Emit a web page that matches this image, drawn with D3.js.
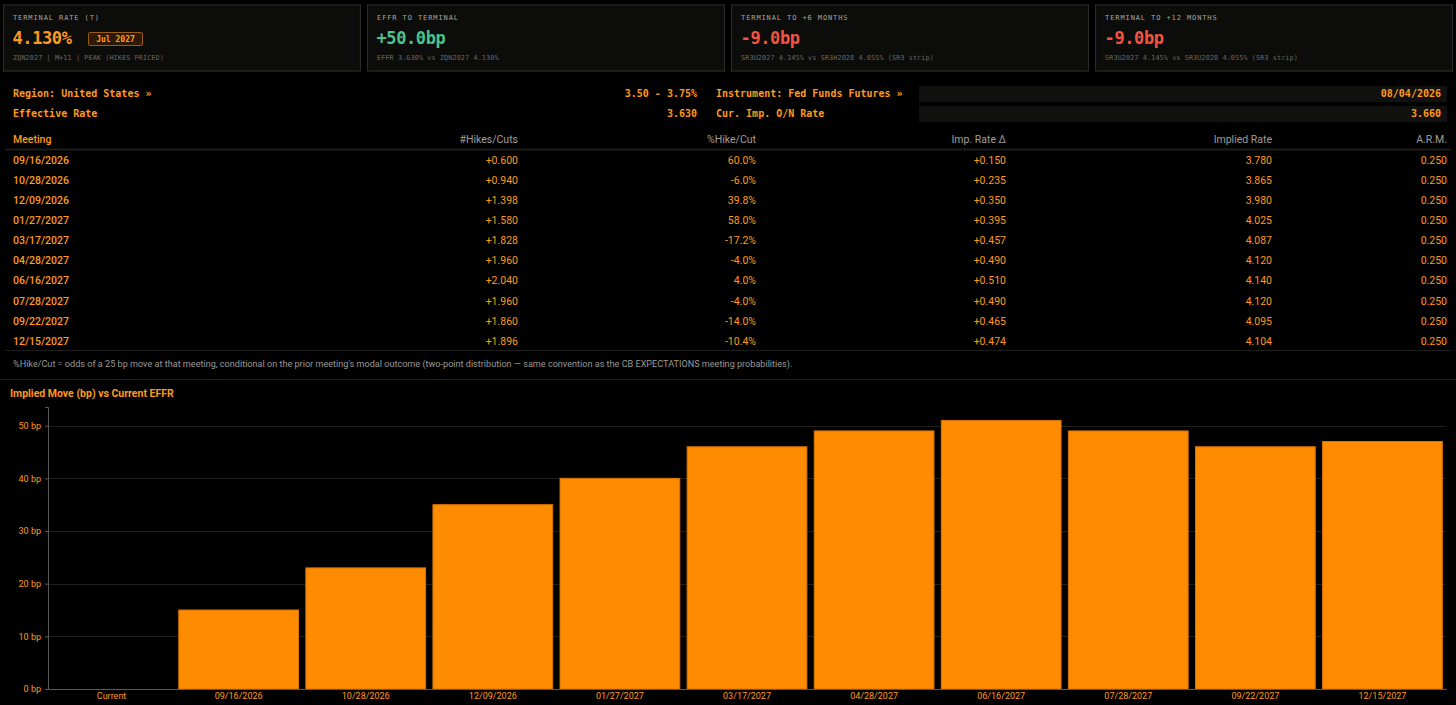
<!DOCTYPE html>
<html><head><meta charset="utf-8">
<script src="https://cdn.jsdelivr.net/npm/d3@7"></script>
<style>
html,body{margin:0;padding:0;background:#000;}
svg{display:block;}
</style></head>
<body>
<svg id="c" width="1456" height="705"></svg>
<script>
// ---- data ----
const cardLabels = ["TERMINAL RATE (T)", "EFFR TO TERMINAL", "TERMINAL TO +6 MONTHS", "TERMINAL TO +12 MONTHS"];
const cardValues = ["4.130%", "+50.0bp", "-9.0bp", "-9.0bp"];
const cardNotes = ["ZQN2027 | M+11 | PEAK (HIKES PRICED)", "EFFR 3.630% vs ZQN2027 4.130%",
  "SR3U2027 4.145% vs SR3H2028 4.055% (SR3 strip)", "SR3U2027 4.145% vs SR3U2028 4.055% (SR3 strip)"];
const cardBadge = "Jul 2027";
const headerCols = ["Meeting", "#Hikes/Cuts", "%Hike/Cut", "Imp. Rate Δ", "Implied Rate", "A.R.M."];
const meetings = ["09/16/2026","10/28/2026","12/09/2026","01/27/2027","03/17/2027","04/28/2027","06/16/2027","07/28/2027","09/22/2027","12/15/2027"];
const hikesCuts = ["+0.600","+0.940","+1.398","+1.580","+1.828","+1.960","+2.040","+1.960","+1.860","+1.896"];
const pctHikeCut = ["60.0%","-6.0%","39.8%","58.0%","-17.2%","-4.0%","4.0%","-4.0%","-14.0%","-10.4%"];
const impRateDelta = ["+0.150","+0.235","+0.350","+0.395","+0.457","+0.490","+0.510","+0.490","+0.465","+0.474"];
const impliedRate = ["3.780","3.865","3.980","4.025","4.087","4.120","4.140","4.120","4.095","4.104"];
const arm = ["0.250","0.250","0.250","0.250","0.250","0.250","0.250","0.250","0.250","0.250"];
const footnote = "%Hike/Cut = odds of a 25 bp move at that meeting, conditional on the prior meeting's modal outcome (two-point distribution \u2014 same convention as the CB EXPECTATIONS meeting probabilities).";
const chartTitle = "Implied Move (bp) vs Current EFFR";
const chartCats = ["Current"].concat(meetings);
const moveBp = [0, 15, 23, 35, 40, 46, 49, 51, 49, 46, 47];
const yTicks = [0, 10, 20, 30, 40, 50];

// ---- styles ----
const ORANGE = "#ff9a1a", BAR = "#ff8c00", MONO = "'DejaVu Sans Mono', 'Liberation Mono', monospace", SANS = "Roboto, 'Noto Sans', sans-serif";
const svg = d3.select("#c");
svg.append("rect").attr("width",1456).attr("height",705).attr("fill","#000");

// ---- cards ----
const cardX = d3.scaleBand().domain(d3.range(4)).range([3.5, 1452.5]).paddingInner(0.0195);
const valColors = [ORANGE, "#4cc38a", "#f5533f", "#f5533f"];
const cards = svg.selectAll("g.card").data(d3.range(4)).join("g").attr("class","card")
  .attr("transform", i => `translate(${cardX(i)},5)`);
cards.append("rect").attr("width", cardX.bandwidth()).attr("height", 66)
  .attr("fill","#0c0c0b").attr("stroke","#2a2a25").attr("stroke-width",1.2);
cards.append("text").attr("x",9.5).attr("y",14.5).text(i => cardLabels[i])
  .attr("font-family",MONO).attr("font-size",7).attr("letter-spacing",0.9).attr("fill","#a8a69e");
cards.append("text").attr("x",9).attr("y",38.5).text(i => cardValues[i])
  .attr("font-family",MONO).attr("font-weight","bold").attr("font-size",17).attr("letter-spacing",-0.4).attr("fill",i => valColors[i]);
cards.append("text").attr("x",9.5).attr("y",54.5).text(i => cardNotes[i])
  .attr("font-family",MONO).attr("font-size",6.8).attr("letter-spacing",0.1).attr("fill","#6a6862");
const b = svg.append("g").attr("transform","translate(88.5,32.5)");
b.append("rect").attr("width",54).attr("height",13).attr("rx",1.5).attr("fill","#2e1a04").attr("stroke","#9a5a10").attr("stroke-width",1);
b.append("text").attr("x",27).attr("y",9.5).attr("text-anchor","middle").text(cardBadge)
  .attr("font-family",MONO).attr("font-weight","bold").attr("font-size",8).attr("fill",ORANGE);

// ---- info rows ----
svg.append("rect").attr("x",919).attr("y",86).attr("width",528).attr("height",16).attr("fill","#111110");
svg.append("rect").attr("x",919).attr("y",106).attr("width",528).attr("height",16).attr("fill","#111110");
const info = svg.append("g").attr("font-family",MONO).attr("font-weight","bold").attr("font-size",10).attr("fill",ORANGE);
info.append("text").attr("x",13).attr("y",97).text("Region: United States \u00bb");
info.append("text").attr("x",697).attr("y",97).attr("text-anchor","end").text("3.50 - 3.75%");
info.append("text").attr("x",13).attr("y",117).text("Effective Rate");
info.append("text").attr("x",697).attr("y",117).attr("text-anchor","end").text("3.630");
info.append("text").attr("x",716).attr("y",97).text("Instrument: Fed Funds Futures \u00bb");
info.append("text").attr("x",716).attr("y",117).text("Cur. Imp. O/N Rate");
info.append("text").attr("x",1441).attr("y",97).attr("text-anchor","end").text("08/04/2026");
info.append("text").attr("x",1441).attr("y",117).attr("text-anchor","end").text("3.660");

// ---- table ----
const colRight = [null, 518, 756, 1006, 1272, 1447];
const rowY = d3.scaleBand().domain(d3.range(meetings.length)).range([150, 351]);
const tbl = svg.append("g").attr("font-family",SANS).attr("font-size",10.5);
headerCols.forEach((h,j) => {
  tbl.append("text").attr("x", j===0 ? 13 : colRight[j]).attr("y",142.5)
    .attr("text-anchor", j===0 ? "start" : "end").attr("fill", j===0 ? ORANGE : "#a09e98")
    .attr("font-weight", j===0 ? 500 : 400).text(h);
});
svg.append("line").attr("x1",5).attr("x2",1451).attr("y1",149.5).attr("y2",149.5).attr("stroke","#1c1c1a").attr("stroke-width",2);
const cols = [meetings, hikesCuts, pctHikeCut, impRateDelta, impliedRate, arm];
cols.forEach((arr,j) => {
  tbl.selectAll(null).data(arr).join("text")
    .attr("x", j===0 ? 13 : colRight[j]).attr("y",(d,i)=> rowY(i)+rowY.bandwidth()/2+3.8)
    .attr("text-anchor", j===0 ? "start" : "end").attr("fill",ORANGE)
    .attr("font-weight", j===0 ? 500 : 400).text(d=>d);
});
svg.append("line").attr("x1",5).attr("x2",1451).attr("y1",350.5).attr("y2",350.5).attr("stroke","#1c1c1a").attr("stroke-width",1);
svg.append("text").attr("x",13).attr("y",367).text(footnote).attr("font-family",SANS).attr("font-size",9.1).attr("fill","#9a9893");
svg.append("line").attr("x1",0).attr("x2",1456).attr("y1",379.5).attr("y2",379.5).attr("stroke","#1c1c1a").attr("stroke-width",1);
svg.append("text").attr("x",10).attr("y",397).text(chartTitle).attr("font-family",SANS).attr("font-weight","bold").attr("font-size",10.5).attr("fill",ORANGE);

// ---- chart ----
const x = d3.scaleBand().domain(chartCats).range([48, 1446]).paddingInner(0.05).paddingOuter(0.025);
const y = d3.scaleLinear().domain([0, d3.max(moveBp)*1.05]).range([689, 407]);
const g = svg.append("g");
g.selectAll("line.grid").data(yTicks.slice(1)).join("line").attr("class","grid")
  .attr("x1",48).attr("x2",1446).attr("y1",d=>Math.round(y(d))+0.5).attr("y2",d=>Math.round(y(d))+0.5)
  .attr("stroke","#1f1f1b").attr("stroke-width",1);
g.selectAll("rect.bar").data(moveBp).join("rect").attr("class","bar")
  .attr("x",(d,i)=>x(chartCats[i])+0.5).attr("width",x.bandwidth()-1)
  .attr("y",d=>y(d)).attr("height",d=>y(0)-y(d))
  .attr("fill",BAR).attr("stroke","#d97400").attr("stroke-width",1);
const ya = g.append("g").attr("transform","translate(48,0)")
  .call(d3.axisLeft(y).tickValues(yTicks).tickSize(3).tickFormat(d=>d+" bp"));
ya.select(".domain").attr("stroke","#5a5955");
ya.selectAll(".tick line").attr("stroke","#5a5955");
ya.selectAll("text").attr("fill",ORANGE).attr("font-family",SANS).attr("font-size",9).attr("dx",-1);
const xa = g.append("g").attr("transform","translate(0,689)")
  .call(d3.axisBottom(x).tickSize(0).tickPadding(4));
xa.select(".domain").attr("stroke","#5a5955");
xa.selectAll("text").attr("fill",ORANGE).attr("font-family",SANS).attr("font-size",9);
</script>
</body></html>
